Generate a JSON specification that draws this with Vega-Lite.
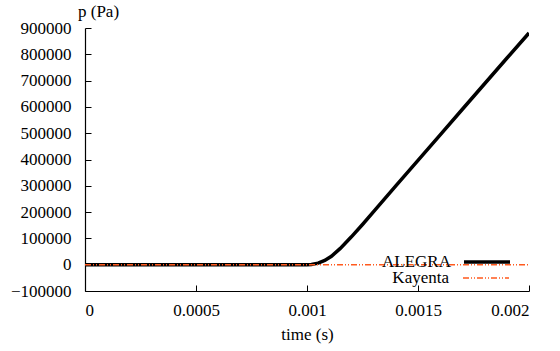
{
  "$schema": "https://vega.github.io/schema/vega-lite/v6.json",
  "width": 444,
  "height": 263,
  "autosize": "none",
  "padding": {"left": 85, "top": 28, "right": 31, "bottom": 60},
  "background": "white",
  "config": {
    "font": "Times New Roman, Liberation Serif, serif",
    "view": {"stroke": null},
    "axis": {
      "grid": false,
      "domainColor": "black",
      "domainWidth": 1.2,
      "tickColor": "black",
      "tickWidth": 1,
      "tickSize": -6,
      "labelFont": "Times New Roman, Liberation Serif, serif",
      "labelFontSize": 17,
      "labelColor": "black",
      "titleFont": "Times New Roman, Liberation Serif, serif",
      "titleFontSize": 17,
      "titleFontWeight": "normal",
      "titleColor": "black"
    },
    "legend": {
      "labelFont": "Times New Roman, Liberation Serif, serif",
      "labelFontSize": 17,
      "labelColor": "black",
      "title": null,
      "orient": "none",
      "symbolType": "stroke",
      "symbolSize": 2116,
      "labelAlign": "right",
      "labelOffset": -61,
      "padding": 0
    }
  },
  "data": {
    "values": [
      {"t": 0, "p": 0, "series": "ALEGRA"},
      {"t": 0.0005, "p": 0, "series": "ALEGRA"},
      {"t": 0.001, "p": 0, "series": "ALEGRA"},
      {"t": 0.00102, "p": 1000, "series": "ALEGRA"},
      {"t": 0.00105, "p": 6000, "series": "ALEGRA"},
      {"t": 0.00108, "p": 16000, "series": "ALEGRA"},
      {"t": 0.00111, "p": 32000, "series": "ALEGRA"},
      {"t": 0.00115, "p": 62000, "series": "ALEGRA"},
      {"t": 0.0012, "p": 106000, "series": "ALEGRA"},
      {"t": 0.00125, "p": 153000, "series": "ALEGRA"},
      {"t": 0.0013, "p": 202000, "series": "ALEGRA"},
      {"t": 0.0014, "p": 300000, "series": "ALEGRA"},
      {"t": 0.0015, "p": 397000, "series": "ALEGRA"},
      {"t": 0.0016, "p": 494000, "series": "ALEGRA"},
      {"t": 0.0017, "p": 591000, "series": "ALEGRA"},
      {"t": 0.0018, "p": 688000, "series": "ALEGRA"},
      {"t": 0.0019, "p": 785000, "series": "ALEGRA"},
      {"t": 0.002, "p": 881000, "series": "ALEGRA"},
      {"t": 0, "p": 0, "series": "Kayenta"},
      {"t": 0.0005, "p": 0, "series": "Kayenta"},
      {"t": 0.001, "p": 0, "series": "Kayenta"},
      {"t": 0.0015, "p": 0, "series": "Kayenta"},
      {"t": 0.002, "p": 0, "series": "Kayenta"}
    ]
  },
  "encoding": {
    "x": {
      "field": "t",
      "type": "quantitative",
      "scale": {"domain": [0, 0.002], "nice": false},
      "axis": {
        "values": [0, 0.0005, 0.001, 0.0015, 0.002],
        "format": "~g",
        "title": "time (s)",
        "labelPadding": 17,
        "titlePadding": 8
      }
    },
    "y": {
      "field": "p",
      "type": "quantitative",
      "scale": {"domain": [-100000, 900000], "nice": false, "zero": false},
      "axis": {
        "values": [-100000, 0, 100000, 200000, 300000, 400000, 500000, 600000, 700000, 800000, 900000],
        "format": "d",
        "title": "p (Pa)",
        "titleAngle": 0,
        "titleAlign": "center",
        "titleBaseline": "bottom",
        "titleX": 13,
        "titleY": -8,
        "labelPadding": 20
      }
    }
  },
  "layer": [
    {
      "transform": [{"filter": "datum.series === 'ALEGRA'"}],
      "mark": {"type": "line", "strokeWidth": 3.5, "strokeCap": "butt", "clip": true},
      "encoding": {
        "color": {
          "field": "series",
          "type": "nominal",
          "scale": {"domain": ["ALEGRA"], "range": ["black"]},
          "legend": {"legendX": 377, "legendY": 209, "symbolStrokeWidth": 3.5}
        }
      }
    },
    {
      "transform": [{"filter": "datum.series === 'Kayenta'"}],
      "mark": {"type": "line", "strokeWidth": 1.5, "strokeDash": [6, 2, 1, 2, 1, 2], "strokeCap": "butt", "clip": true},
      "encoding": {
        "color": {
          "field": "series",
          "type": "nominal",
          "scale": {"domain": ["Kayenta"], "range": ["#ff5a1e"]},
          "legend": {"legendX": 377, "legendY": 226, "symbolStrokeWidth": 1.5, "symbolDash": [6, 2, 1, 2, 1, 2]}
        }
      }
    }
  ],
  "resolve": {"scale": {"color": "independent"}, "legend": {"color": "independent"}}
}
